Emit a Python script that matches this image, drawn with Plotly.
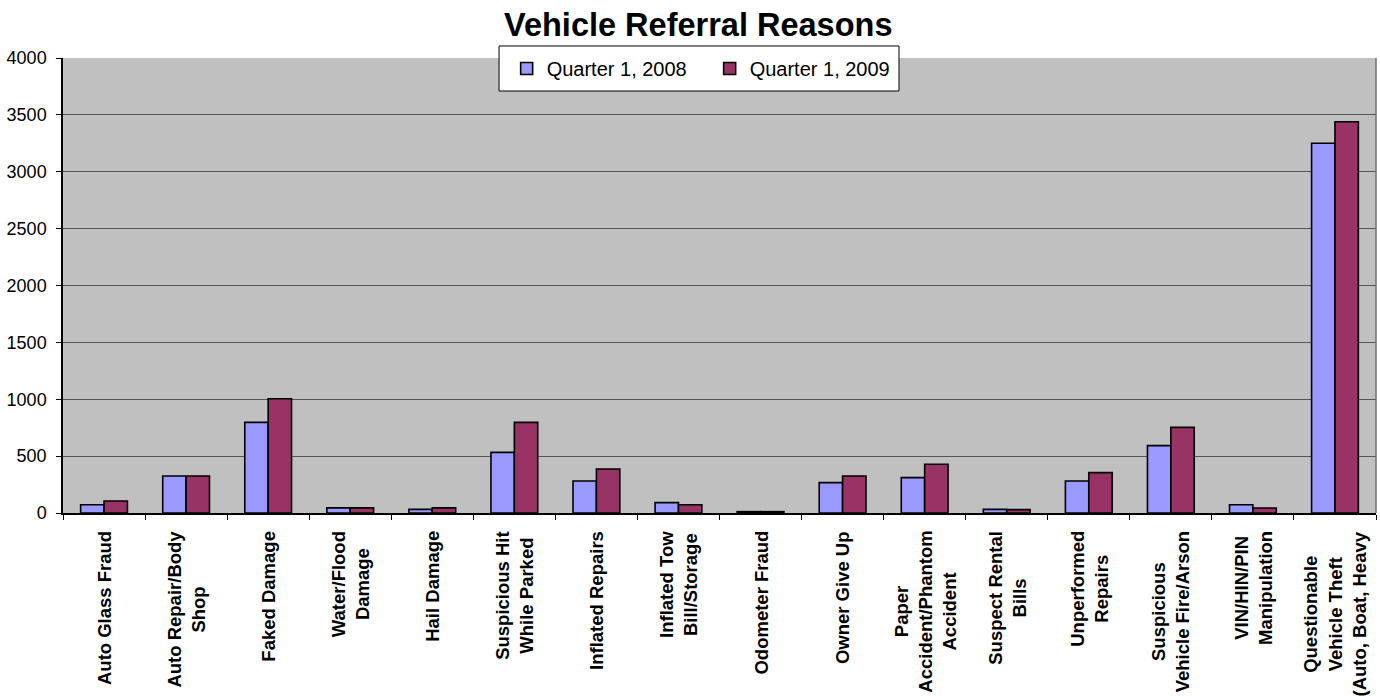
import plotly.graph_objects as go

# Referral reasons (one per category) and the wrapped text shown under each bar pair
categories = [
    "Auto Glass Fraud", "Auto Repair/Body Shop", "Faked Damage", "Water/Flood Damage",
    "Hail Damage", "Suspicious Hit While Parked", "Inflated Repairs", "Inflated Tow Bill/Storage",
    "Odometer Fraud", "Owner Give Up", "Paper Accident/Phantom Accident", "Suspect Rental Bills",
    "Unperformed Repairs", "Suspicious Vehicle Fire/Arson", "VIN/HIN/PIN Manipulation",
    "Questionable Vehicle Theft (Auto, Boat, Heavy",
]
tick_labels = [
    "Auto Glass Fraud", "Auto Repair/Body<br>Shop", "Faked Damage", "Water/Flood<br>Damage",
    "Hail Damage", "Suspicious Hit<br>While Parked", "Inflated Repairs", "Inflated Tow<br>Bill/Storage",
    "Odometer Fraud", "Owner Give Up", "Paper<br>Accident/Phantom<br>Accident", "Suspect Rental<br>Bills",
    "Unperformed<br>Repairs", "Suspicious<br>Vehicle Fire/Arson", "VIN/HIN/PIN<br>Manipulation",
    "Questionable<br>Vehicle Theft<br>(Auto, Boat, Heavy",
]
q1_2008 = [73, 325, 797, 45, 32, 533, 281, 91, 12, 267, 311, 32, 281, 592, 73, 3250]
q1_2009 = [105, 325, 1005, 45, 45, 797, 387, 73, 12, 325, 428, 30, 355, 753, 44, 3440]

y_ticks = [0, 500, 1000, 1500, 2000, 2500, 3000, 3500, 4000]

FONT = "Liberation Sans, Arial, sans-serif"

fig = go.Figure()
fig.add_trace(go.Bar(
    name="Quarter 1, 2008", x=categories, y=q1_2008,
    marker=dict(color="#9999FF", line=dict(color="black", width=1.6)),
))
fig.add_trace(go.Bar(
    name="Quarter 1, 2009", x=categories, y=q1_2009,
    marker=dict(color="#993366", line=dict(color="black", width=1.6)),
))

# Category labels: rotated, bold, lines centred, hanging below the axis
for cat, lab in zip(categories, tick_labels):
    fig.add_annotation(
        x=cat, y=0, xref="x", yref="paper", yanchor="top", xanchor="center",
        yshift=-16, text=lab, textangle=-90, align="center", showarrow=False,
        font=dict(family=FONT, size=18.5, color="black", weight="bold"),
    )

# Grey frame on the right side of the plot area
fig.add_shape(type="line", xref="paper", yref="paper", x0=1, x1=1, y0=0, y1=1,
              line=dict(color="#707070", width=1.5))
# White box behind the legend entries
fig.add_shape(type="rect", xref="paper", yref="paper", layer="above",
              x0=0.3321, x1=0.6367, y0=0.9275, y1=1.0264,
              fillcolor="white", line=dict(color="black", width=1))

fig.update_layout(
    width=1380, height=696,
    margin=dict(l=63, r=4, t=58, b=183),
    paper_bgcolor="white", plot_bgcolor="#C0C0C0",
    barmode="group", bargap=0.43, bargroupgap=0,
    title=dict(text="<b>Vehicle Referral Reasons</b>", x=0.506, xref="container",
               y=1 - 25 / 696, yref="container", yanchor="middle", xanchor="center",
               font=dict(family=FONT, size=32.5, color="black")),
    legend=dict(orientation="h", x=0.4925, xanchor="center", y=0.977, yanchor="middle",
                bgcolor="rgba(0,0,0,0)", borderwidth=0,
                font=dict(family=FONT, size=20, color="black"),
                entrywidth=158, entrywidthmode="pixels", itemclick=False),
    font=dict(family=FONT, color="black"),
    showlegend=True,
)
fig.update_xaxes(
    type="category", tickson="boundaries", ticks="outside", ticklen=5,
    tickcolor="black", showticklabels=False, showline=True, linecolor="black",
    linewidth=1.5, showgrid=False, zeroline=False,
)
fig.update_yaxes(
    range=[0, 4000], tickvals=y_ticks, ticks="outside", ticklen=5, tickcolor="black",
    showline=True, linecolor="black", linewidth=1.5, showgrid=True,
    gridcolor="#555555", gridwidth=1.2, zeroline=False, ticklabelstandoff=6,
    tickfont=dict(family=FONT, size=18, color="black"),
)

fig.write_html("out.html")
